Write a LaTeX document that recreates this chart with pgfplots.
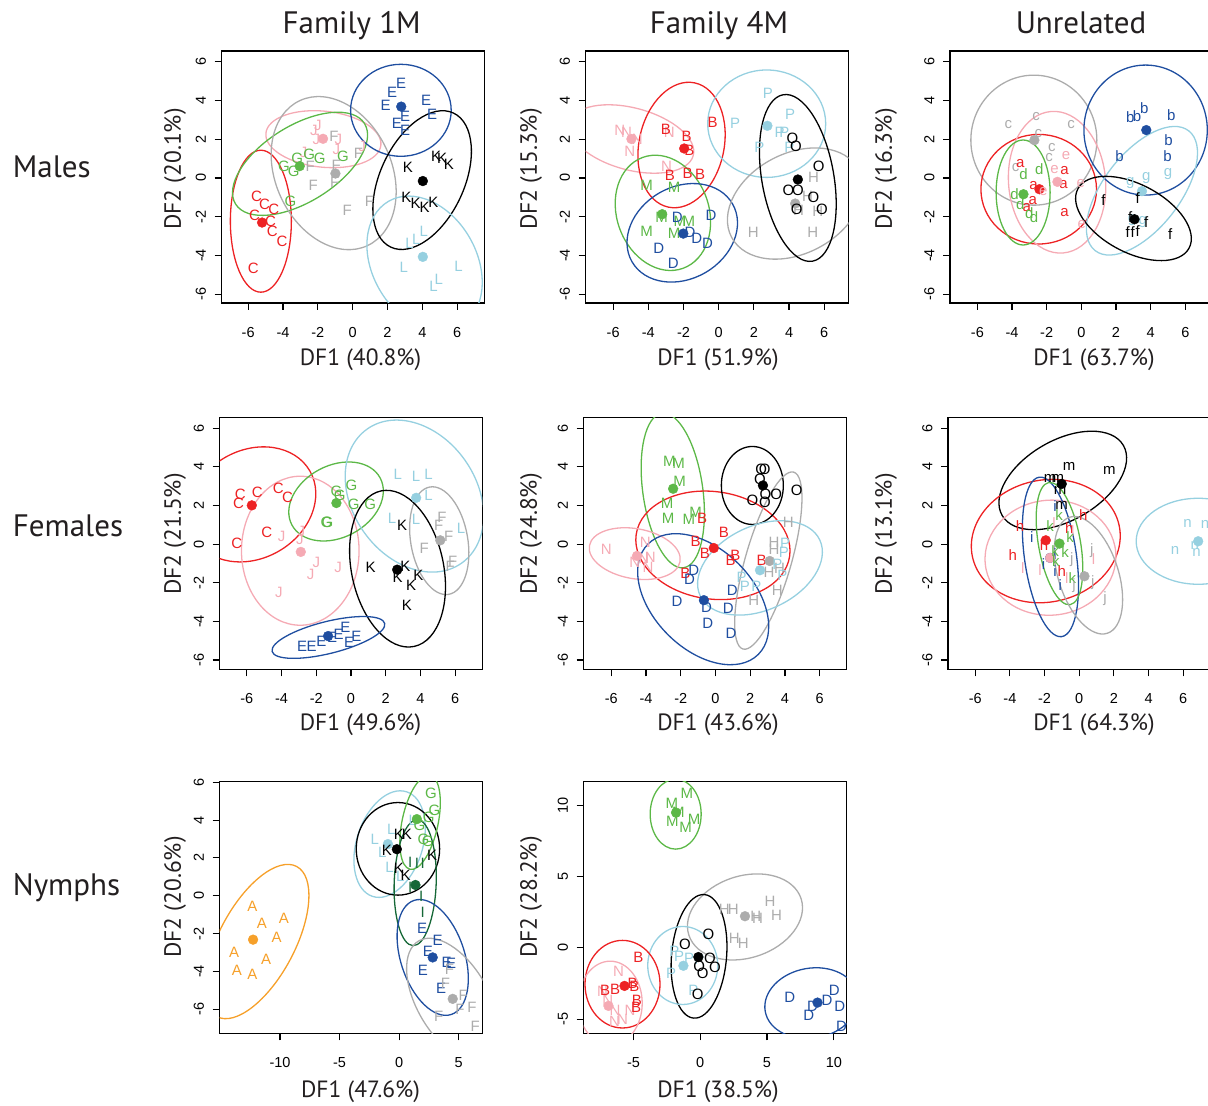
\documentclass[border=0pt]{standalone}
\usepackage{pgfplots}
\pgfplotsset{compat=1.18}
\usepackage{fontspec}
\setmainfont{PT Sans}
\newfontfamily\lf{Liberation Sans}
\definecolor{cred}{RGB}{237,34,36}
\definecolor{cpink}{RGB}{245,170,180}
\definecolor{cgreen}{RGB}{92,184,71}
\definecolor{cgrey}{RGB}{172,172,172}
\definecolor{cblue}{RGB}{31,78,160}
\definecolor{clblue}{RGB}{150,208,224}
\definecolor{corange}{RGB}{246,160,42}
\definecolor{cdgreen}{RGB}{22,104,55}
\definecolor{ctext}{RGB}{35,31,32}
\newcommand{\grp}[4]{%
 \addplot[only marks, mark=none, color=#1, nodes near coords={#2},
   every node near coord/.style={anchor=center, inner sep=0pt, text=#1, font=\lf\fontsize{15}{15}\selectfont}] coordinates {#3};
 \addplot[only marks, color=#1, mark=*, mark size=4.9pt] coordinates {#4};
}
\newcommand{\myell}[6]{\draw[#1, line width=1.3pt, rotate around={#6:(axis cs:#2,#3)}] (axis cs:#2,#3) ellipse [x radius=#4pt, y radius=#5pt];}
\pgfplotsset{panel/.style={
  scale only axis, width=263pt, height=252pt, anchor=south west,
  axis line style={line width=1.2pt, black},
  tick align=outside, major tick length=7pt,
  tick style={black, line width=1.1pt},
  xtick pos=left, ytick pos=left,
  tick label style={font=\lf\fontsize{14.5}{14.5}\selectfont, text=black},
  /pgf/number format/assume math mode=true,
  yticklabel style={rotate=90, anchor=south},
  xticklabel shift=13.5pt, yticklabel shift=5pt,
  xtick={-6,-4,...,6}, ytick={-6,-4,...,6},
}}
\begin{document}
\begin{tikzpicture}
\useasboundingbox (0,0) rectangle (1208pt,1106pt);
\clip (0,0) rectangle (1208pt,1106pt);
% ---------------- P1 Males Family 1M
\begin{axis}[panel, at={(221.5pt,803pt)}, xmin=-7.53, xmax=7.57, ymin=-6.45, ymax=6.55]
\grp{cred}{C}{(-5.52,-0.94)(-5.06,-1.35)(-4.53,-1.63)(-5.64,-1.95)(-4.72,-2.26)(-4.62,-2.73)(-4.05,-3.26)(-5.71,-4.64)}{(-5.2,-2.3)}
\grp{cpink}{J}{(-2.22,2.47)(-1.99,2.71)(-2.08,1.99)(-0.82,2.01)(-0.94,1.47)(0.54,1.64)(-2.81,1.30)}{(-1.7,2.02)}
\grp{cgreen}{G}{(-3.19,1.0)(-2.50,1.21)(-1.89,1.0)(-3.94,0.58)(-3.38,0.35)(-0.55,1.13)(-3.57,-1.2)}{(-3.04,0.61)}
\grp{cgrey}{F}{(-1.07,2.16)(0.34,1.27)(-2.43,0.61)(-0.94,0.65)(-1.03,-0.25)(-2.27,-0.4)(0.97,-1.2)(-0.31,-1.66)}{(-0.99,0.23)}
\grp{cblue}{E}{(2.79,4.88)(2.27,4.43)(1.89,3.73)(3.02,3.19)(2.54,2.81)(3.02,2.44)(4.22,3.99)(4.57,3.30)}{(2.79,3.68)}
\grp{black}{K}{(3.17,0.54)(4.8,1.13)(5.14,1.0)(5.52,0.71)(3.08,-1.01)(3.61,-1.32)(4.13,-1.49)(4.64,-1.28)}{(4.03,-0.16)}
\grp{clblue}{L}{(4.09,-2.73)(3.65,-3.18)(3.27,-3.38)(2.94,-4.59)(6.08,-4.54)(4.95,-5.24)(4.64,-5.57)}{(4.03,-4.07)}
\myell{cred}{-5.27}{-2.23}{30.5}{71}{0}
\myell{cpink}{-1.68}{2.0}{57.8}{28}{-6}
\myell{cgreen}{-3.02}{0.73}{76}{38}{32}
\myell{cgrey}{-1.09}{0.25}{80}{58}{-65}
\myell{cblue}{2.77}{3.49}{50.3}{46}{0}
\myell{black}{3.99}{-0.11}{74}{42}{65}
\myell{clblue}{4.13}{-4.42}{72}{52}{-60}
\end{axis}
% ---------------- P2 Males Family 4M
\begin{axis}[panel, at={(585.5pt,803pt)}, xmin=-7.57, xmax=7.38, ymin=-6.45, ymax=6.55]
\grp{cpink}{N}{(-5.62,2.47)(-5.24,2.33)(-4.63,1.99)(-5.05,1.39)(-2.81,2.33)(-2.96,0.61)}{(-4.96,2.01)}
\grp{cred}{B}{(-3.0,2.5)(-1.82,2.13)(-1.67,1.44)(-0.34,2.85)(-2.77,0.11)(-1.77,0.23)(-1.06,0.2)}{(-1.96,1.52)}
\grp{cgreen}{M}{(-4.1,-0.37)(-2.53,-0.46)(-3.25,-2.01)(-2.2,-2.26)(-1.69,-2.26)(-4.1,-2.73)(-2.53,-2.87)}{(-3.21,-1.87)}
\grp{cblue}{D}{(-2.35,-2.01)(-1.63,-2.83)(-1.25,-3.13)(-0.63,-3.35)(-0.44,-1.95)(-3.4,-3.64)(-2.58,-4.38)}{(-2.01,-2.87)}
\grp{clblue}{P}{(2.79,4.36)(4.06,3.30)(0.93,2.81)(3.46,2.33)(3.74,2.33)(2.32,1.58)(4.02,1.58)}{(2.77,2.69)}
\grp{cgrey}{H}{(5.39,0.03)(5.05,-0.94)(4.54,-1.66)(5.64,-1.70)(1.97,-2.78)(5.35,-2.78)}{(4.35,-1.32)}
\grp{black}{O}{(4.2,2.04)(4.39,1.61)(5.68,0.58)(3.97,-0.66)(4.5,-0.63)(5.39,-1.01)(4.44,-1.63)(5.87,-1.63)}{(4.5,-0.08)}
\myell{cpink}{-4.96}{2.01}{64}{31}{-15}
\myell{cred}{-2.11}{1.70}{63.5}{42.5}{78}
\myell{cgreen}{-3.17}{-1.8}{59}{46}{-70}
\myell{cblue}{-2.07}{-2.83}{58}{46}{30}
\myell{clblue}{2.73}{2.80}{59}{53.7}{0}
\myell{cgrey}{4.35}{-1.32}{72}{50}{28}
\myell{black}{4.5}{0.0}{84.5}{36}{-80}
\end{axis}
% ---------------- P3 Males Unrelated
\begin{axis}[panel, at={(950pt,803pt)}, xmin=-7.58, xmax=7.6, ymin=-6.45, ymax=6.55]
\grp{cgrey}{c}{(-4.21,2.76)(-2.61,3.19)(-0.59,2.76)(-2.48,2.3)(-1.70,1.58)(-1.86,1.06)(-3.79,0.52)}{(-2.71,1.95)}
\grp{cred}{a}{(-3.53,0.75)(-2.76,-0.41)(-0.97,0.40)(-1.03,-0.32)(-2.8,-1.15)(-3.15,-1.52)(-0.97,-1.8)}{(-2.42,-0.58)}
\grp{cpink}{e}{(-0.88,1.14)(-1.55,0.46)(-2.19,-0.71)(-0.03,-0.28)(0.03,-2.38)}{(-1.38,-0.2)}
\grp{cgreen}{d}{(-3.34,0.2)(-2.42,0.44)(-3.86,-0.84)(-3.53,-1.37)(-3.0,-1.83)(-2.73,-2.01)}{(-3.34,-0.84)}
\grp{cblue}{b}{(2.82,3.16)(3.21,3.19)(3.63,3.59)(5.19,3.25)(5.04,1.95)(4.98,1.13)(2.2,1.13)}{(3.75,2.47)}
\grp{clblue}{g}{(3.75,0.01)(5.0,0.18)(2.82,-0.25)(3.55,-2.26)(2.92,-2.18)}{(3.5,-0.68)}
\grp{black}{f}{(1.28,-1.15)(3.26,-1.06)(2.82,-2.01)(3.75,-2.26)(2.67,-2.78)(2.96,-2.78)(3.26,-2.73)(5.13,-2.9)}{(3.07,-2.13)}
\myell{cgrey}{-2.74}{1.95}{63}{65}{0}
\myell{cred}{-2.46}{-0.58}{57.8}{54.8}{0}
\myell{cpink}{-1.4}{-0.22}{71}{48.5}{-85}
\myell{cgreen}{-3.36}{-0.75}{27}{52.5}{0}
\myell{cblue}{3.71}{2.47}{61.7}{65}{0}
\myell{clblue}{3.5}{-0.66}{76}{38}{52}
\myell{black}{3.01}{-2.09}{63}{34}{-28}
\end{axis}
% ---------------- P4 Females Family 1M
\begin{axis}[panel, at={(219.5pt,436.7pt)}, xmin=-7.57, xmax=7.57, ymin=-6.48, ymax=6.57]
\grp{cred}{C}{(-6.38,2.56)(-6.48,2.13)(-5.39,2.69)(-4.18,2.9)(-3.65,2.44)(-4.85,0.63)(-6.57,0.06)}{(-5.71,2.01)}
\grp{cpink}{J}{(-2.85,0.66)(-2.94,0.25)(-3.99,0.40)(-1.99,-0.92)(-2.33,-1.56)(-0.74,-1.18)(-4.15,-2.51)}{(-2.89,-0.40)}
\grp{cgreen}{G}{(-0.84,2.73)(0.02,3.07)(-0.65,2.52)(0.15,2.04)(1.11,2.04)(-1.41,1.14)(-1.36,1.11)}{(-0.84,2.13)}
\grp{clblue}{L}{(2.69,3.61)(3.75,3.50)(4.47,3.61)(4.47,2.52)(2.37,1.32)(3.75,1.28)(6.33,0.80)}{(3.75,2.40)}
\grp{cgrey}{F}{(5.24,1.40)(5.05,0.97)(5.62,0.40)(4.22,-0.23)(5.85,-0.89)(5.71,-1.15)}{(5.14,0.2)}
\grp{black}{K}{(2.94,1.0)(1.13,-1.18)(3.13,-1.13)(2.69,-1.70)(3.88,-1.64)(3.46,-2.13)(3.21,-3.16)}{(2.66,-1.32)}
\grp{cblue}{E}{(-2.81,-5.31)(-2.27,-5.31)(-1.70,-5.02)(-1.09,-4.85)(-0.71,-4.68)(-0.32,-4.33)(-0.11,-5.09)(0.31,-4.76)}{(-1.32,-4.76)}
\myell{cred}{-5.71}{2.06}{67}{54}{30}
\myell{cpink}{-2.92}{-0.34}{58.8}{74.5}{0}
\myell{cgreen}{-0.86}{2.21}{50}{36}{28}
\myell{clblue}{3.65}{2.49}{82}{62}{-55}
\myell{cgrey}{5.08}{0.18}{54.5}{28.5}{-80}
\myell{black}{2.68}{-1.27}{79.5}{46}{-78}
\myell{cblue}{-1.3}{-4.83}{58}{16}{14}
\end{axis}
% ---------------- P5 Females Family 4M
\begin{axis}[panel, at={(583.5pt,436.7pt)}, xmin=-7.6, xmax=7.54, ymin=-6.48, ymax=6.57]
\grp{cgreen}{M}{(-2.65,4.28)(-2.12,4.16)(-2.06,3.25)(-2.79,2.09)(-2.73,1.32)(-1.54,1.28)(-1.15,1.63)}{(-2.44,2.87)}
\grp{cred}{B}{(-0.77,1.35)(0.48,0.63)(-1.15,0.15)(-0.62,-0.46)(1.15,-0.58)(0.87,-0.84)(2.65,-0.84)(-1.73,-1.52)}{(-0.10,-0.2)}
\grp{cpink}{N}{(-6.29,-0.27)(-4.04,0.08)(-4.65,-0.96)(-4.13,-0.71)(-3.75,-0.66)(-3.88,-1.18)}{(-4.52,-0.61)}
\grp{cgrey}{H}{(4.19,1.11)(3.37,0.11)(3.37,-0.28)(3.08,-1.44)(3.69,-1.27)(3.56,-2.38)(2.21,-2.9)}{(3.12,-0.87)}
\grp{clblue}{P}{(4.0,0.03)(3.94,-0.44)(3.56,-1.06)(3.85,-1.61)(1.5,-1.73)(1.69,-2.16)(2.35,-2.16)}{(2.56,-1.35)}
\grp{cblue}{D}{(-1.25,-1.35)(-1.5,-1.82)(-2.21,-2.95)(0.96,-2.38)(-0.52,-3.25)(0.73,-3.30)(-0.44,-4.11)(0.9,-4.62)}{(-0.67,-2.9)}
\grp{black}{O}{(2.63,3.90)(2.83,3.85)(2.56,3.35)(2.12,2.26)(2.88,2.56)(3.5,2.56)(2.85,2.18)(4.67,2.78)}{(2.73,3.04)}
\myell{cgreen}{-2.46}{2.78}{78}{30}{-82}
\myell{cred}{-0.15}{-0.06}{77.5}{53.7}{-8}
\myell{cpink}{-4.65}{-0.49}{46}{25}{-10}
\myell{black}{2.12}{3.04}{31}{39}{0}
\myell{cgrey}{3.04}{-0.85}{92}{23}{74}
\myell{clblue}{2.56}{-1.23}{66}{42}{25}
\myell{cblue}{-0.71}{-2.85}{78}{50}{-45}
\end{axis}
% ---------------- P6 Females Unrelated
\begin{axis}[panel, at={(948pt,436.7pt)}, xmin=-7.57, xmax=7.6, ymin=-6.48, ymax=6.57]
\grp{cblue}{i}{(-1.39,1.97)(-2.74,0.37)(-1.39,-0.53)(-2.06,-1.01)(-1.39,-1.4)(-1.1,-2.13)}{(-1.68,-0.71)}
\grp{black}{m}{(-0.59,4.02)(1.74,3.81)(-1.68,3.42)(-1.24,3.42)(-1.1,2.78)(-1.01,2.01)}{(-1.01,3.12)}
\grp{cred}{h}{(-3.41,0.92)(-3.83,-0.58)(-0.57,0.83)(0.24,1.49)(-1.01,-1.4)(-2.03,-0.06)}{(-1.93,0.2)}
\grp{cpink}{l}{(-3.25,-1.23)(-2.26,-1.35)(-1.45,1.11)(0.82,-0.75)(-0.72,-1.78)(-0.37,0.66)}{(-1.68,-0.71)}
\grp{cgreen}{k}{(-1.16,1.49)(-1.68,0.94)(-0.53,0.37)(-1.39,-0.37)(-0.82,-0.40)(-1.35,-0.89)(-0.39,-1.75)}{(-1.14,0.03)}
\grp{cgrey}{j}{(0.72,-0.35)(-0.43,-0.80)(0.78,-1.99)(-0.3,-2.13)(1.49,-2.82)}{(0.30,-1.66)}
\grp{clblue}{n}{(6.25,1.06)(7.25,1.03)(5.52,-0.35)(6.77,-0.44)(6.67,-0.06)}{(6.86,0.15)}
\myell{black}{-0.95}{3.3}{70}{40}{30}
\myell{cred}{-1.93}{0.16}{75}{61}{12}
\myell{cpink}{-1.66}{-0.70}{65.5}{57.5}{5}
\myell{cblue}{-1.66}{-0.66}{80.5}{26}{-82}
\myell{cgreen}{-1.14}{0.03}{62}{21}{-80}
\myell{cgrey}{0.53}{-1.61}{61}{30}{-72}
\myell{clblue}{6.86}{0.15}{62}{43}{0}
\end{axis}
% ---------------- P7 Nymphs Family 1M
\begin{axis}[panel, at={(219.5pt,72.7pt)}, xmin=-15.08, xmax=7.0, ymin=-7.27, ymax=6.05, xtick={-10,-5,0,5}]
\grp{corange}{A}{(-12.31,-0.55)(-11.53,-1.47)(-9.67,-1.17)(-10.28,-2.19)(-13.85,-2.99)(-11.17,-3.35)(-13.62,-3.95)(-12.31,-4.14)}{(-12.26,-2.32)}
\grp{clblue}{L}{(-0.66,3.49)(-2.05,2.99)(-1.41,2.28)(-0.8,1.49)(0.09,1.04)(1.15,3.96)}{(-0.94,2.73)}
\grp{black}{K}{(-0.02,3.26)(0.65,3.26)(-1.02,2.41)(2.77,2.14)(-0.02,1.43)(0.54,1.08)}{(-0.19,2.46)}
\grp{cgreen}{G}{(2.68,5.43)(2.96,4.53)(2.49,4.14)(1.71,3.70)(2.04,2.99)(2.41,2.90)}{(1.49,4.05)}
\grp{cdgreen}{I}{(0.93,1.75)(1.49,1.72)(1.99,1.72)(0.93,0.42)(1.85,-0.02)(1.99,-0.90)}{(1.37,0.57)}
\grp{cblue}{E}{(1.93,-1.70)(3.24,-2.37)(2.41,-2.94)(3.99,-3.52)(4.36,-3.56)(1.99,-3.96)(3.52,-4.92)}{(2.82,-3.26)}
\grp{cgrey}{F}{(4.22,-3.91)(3.88,-4.65)(5.39,-5.29)(5.11,-5.98)(6.11,-5.91)(6.39,-6.88)(3.33,-6.39)}{(4.5,-5.45)}
\myell{corange}{-11.95}{-2.42}{85}{38}{62}
\myell{clblue}{-0.8}{2.73}{55}{33}{72}
\myell{black}{-0.1}{2.48}{41.7}{46.3}{0}
\myell{cgreen}{1.76}{3.88}{48}{18}{78}
\myell{cdgreen}{1.35}{0.69}{63}{21}{88}
\myell{cblue}{2.82}{-3.26}{60}{32}{-72}
\myell{cgrey}{4.5}{-5.5}{68}{36}{-60}
\end{axis}
% ---------------- P8 Nymphs Family 4M
\begin{axis}[panel, at={(583.5pt,72.7pt)}, xmin=-8.74, xmax=10.95, ymin=-5.98, ymax=11.67, xtick={-5,0,5,10}, ytick={-5,0,5,10}]
\grp{cgreen}{M}{(-1.01,10.84)(-2.13,10.14)(-2.08,8.9)(-1.09,8.43)(-0.46,9.02)(-1.64,9.48)}{(-1.81,9.48)}
\grp{cgrey}{H}{(1.8,2.73)(2.48,2.73)(4.15,2.22)(4.29,2.06)(5.22,3.23)(5.72,2.29)(2.55,0.70)(3.22,0.34)}{(3.35,2.22)}
\grp{clblue}{P}{(-1.93,-0.24)(-1.59,-0.59)(-0.84,-0.71)(-2.18,-1.76)(-0.51,-2.94)(-0.07,-0.83)}{(-1.26,-1.25)}
\grp{black}{O}{(0.61,0.98)(-1.14,0.23)(0.73,-0.71)(-0.07,-1.30)(1.1,-1.37)(0.18,-1.81)(-0.19,-3.22)}{(-0.14,-0.64)}
\grp{cpink}{N}{(-6.12,-1.65)(-6.92,-3.64)(-6.37,-4.34)(-5.25,-4.39)(-6.42,-5.16)(-5.82,-5.0)(-7.32,-3.05)}{(-6.87,-4.06)}
\grp{cred}{B}{(-4.63,-0.64)(-7.12,-2.94)(-6.37,-2.87)(-5.07,-2.51)(-4.93,-2.7)(-4.75,-3.64)(-4.8,-4.16)}{(-5.67,-2.66)}
\grp{cblue}{D}{(6.71,-3.48)(9.5,-3.64)(10.03,-2.94)(8.41,-4.11)(8.13,-4.69)(10.45,-4.06)(10.57,-5.47)}{(8.78,-3.83)}
\myell{cgreen}{-1.84}{9.37}{25.5}{35}{0}
\myell{cgrey}{3.35}{2.17}{59}{41}{18}
\myell{black}{-0.09}{-0.59}{62}{27.5}{85}
\myell{clblue}{-1.31}{-1.23}{35}{39}{0}
\myell{cred}{-5.82}{-2.54}{37.5}{43.8}{0}
\myell{cpink}{-6.74}{-3.87}{32}{42}{0}
\myell{cblue}{8.33}{-3.87}{47}{35}{10}
\end{axis}
% ---------------- text
\begin{scope}[every node/.style={text=ctext, inner sep=0pt}]
\node[anchor=base, font=\fontsize{31}{31}\selectfont] at (351.7pt,1072.7pt) {Family 1M};
\node[anchor=base, font=\fontsize{31}{31}\selectfont] at (719pt,1072.7pt) {Family 4M};
\node[anchor=base, font=\fontsize{31}{31}\selectfont] at (1081pt,1072.7pt) {Unrelated};
\node[anchor=base west, font=\fontsize{31}{31}\selectfont] at (12.7pt,928.7pt) {Males};
\node[anchor=base west, font=\fontsize{31}{31}\selectfont] at (12.7pt,569pt) {Females};
\node[anchor=base west, font=\fontsize{31}{31}\selectfont] at (12.7pt,210pt) {Nymphs};
\foreach \x/\y/\t in {360.5/746/DF1 (40.8\%), 718/746/DF1 (51.9\%), 1094/746/DF1 (63.7\%),
  360.5/381/DF1 (49.6\%), 718/381/DF1 (43.6\%), 1094/381/DF1 (64.3\%),
  360.5/14/DF1 (47.6\%), 718/14/DF1 (38.5\%)}
  \node[font=\fontsize{23.5}{23.5}\selectfont] at (\x pt,\y pt) {\t};
\foreach \x/\y/\t in {175/937/DF2 (20.1\%), 531/937/DF2 (15.3\%), 886/937/DF2 (16.3\%),
  175/572/DF2 (21.5\%), 531/572/DF2 (24.8\%), 886/572/DF2 (13.1\%),
  175/209/DF2 (20.6\%), 531/209/DF2 (28.2\%)}
  \node[rotate=90, font=\fontsize{23.5}{23.5}\selectfont] at (\x pt,\y pt) {\t};
\end{scope}
\end{tikzpicture}
\end{document}
